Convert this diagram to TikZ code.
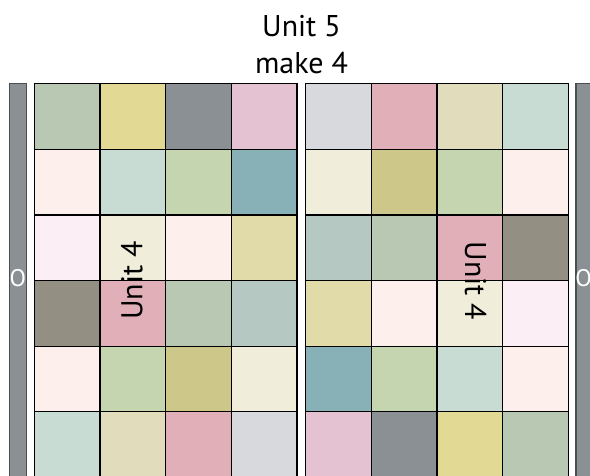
\documentclass[tikz,border=0pt]{standalone}
\usepackage{fontspec}
\newfontfamily\titlefont{PT Sans}
\definecolor{sage}{HTML}{B8C8B3}
\definecolor{yel}{HTML}{E2DA94}
\definecolor{gry}{HTML}{8A9094}
\definecolor{mauve}{HTML}{E4C2D2}
\definecolor{peach}{HTML}{FDF0EC}
\definecolor{paleteal}{HTML}{C8DCD4}
\definecolor{grn}{HTML}{C4D5AF}
\definecolor{teal2}{HTML}{88B0B7}
\definecolor{palepink}{HTML}{FCEEF5}
\definecolor{cream}{HTML}{F0EEDA}
\definecolor{paleyel}{HTML}{E0DBA9}
\definecolor{taupe}{HTML}{948F83}
\definecolor{rose}{HTML}{E1AFB7}
\definecolor{bluegray}{HTML}{B6C8C2}
\definecolor{olive}{HTML}{CEC78A}
\definecolor{beige}{HTML}{E0DCBC}
\definecolor{lgray}{HTML}{D8D9DC}
\definecolor{barfill}{HTML}{8A9094}
\definecolor{baredge}{HTML}{4A4F52}
\tikzset{
  cell/.style={draw=black, line width=1.1pt, minimum width=65.67pt, minimum height=65.63pt, inner sep=0pt, outer sep=0pt},
  bar/.style={draw=baredge, fill=barfill, line width=1.2pt, minimum width=17.2pt, minimum height=406pt, inner sep=0pt},
  titletext/.style={font=\titlefont\fontsize{30}{36}\selectfont, inner sep=0pt, anchor=base},
  otext/.style={font=\titlefont\fontsize{24}{28}\selectfont, text=white, inner sep=0pt},
  unittext/.style={font=\titlefont\fontsize{30}{36}\selectfont, inner sep=0pt}
}
\begin{document}
\begin{tikzpicture}[x=1pt,y=-1pt]
\clip (0,0) rectangle (590,475);
\fill[white] (0,0) rectangle (590,475);
% bars
\node[bar] (barL) at (18.1,286.8) {};
\node[bar] (barR) at (584.5,286.8) {};
\node[otext] (oL) at (17.8,278) {O};
\node[otext] (oR) at (583.5,278) {O};
% left grid
\foreach \row [count=\r] in {{sage,yel,gry,mauve},{peach,paleteal,grn,teal2},{palepink,cream,peach,paleyel},{taupe,rose,sage,bluegray},{peach,grn,olive,cream},{paleteal,beige,rose,lgray}}{
  \foreach \col [count=\c] in \row {
    \node[cell, fill=\col] (L-\r-\c) at ({34.3+(\c-0.5)*65.67},{83.7+(\r-0.5)*65.63}) {};
  }
}
% right grid
\foreach \row [count=\r] in {{lgray,rose,beige,paleteal},{cream,olive,grn,peach},{bluegray,sage,rose,taupe},{paleyel,peach,cream,palepink},{teal2,grn,paleteal,peach},{mauve,gry,yel,sage}}{
  \foreach \col [count=\c] in \row {
    \node[cell, fill=\col] (R-\r-\c) at ({305.7+(\c-0.5)*65.67},{83.7+(\r-0.5)*65.63}) {};
  }
}
% titles
\node[titletext] (t1) at (301.5,36.7) {Unit 5};
\node[titletext] (t2) at (301.5,73.5) {make 4};
% rotated labels
\node[unittext, rotate=90] (uL) at (132,280.5) {Unit 4};
\node[unittext, rotate=-90] (uR) at (475.5,281) {Unit 4};
\end{tikzpicture}
\end{document}
